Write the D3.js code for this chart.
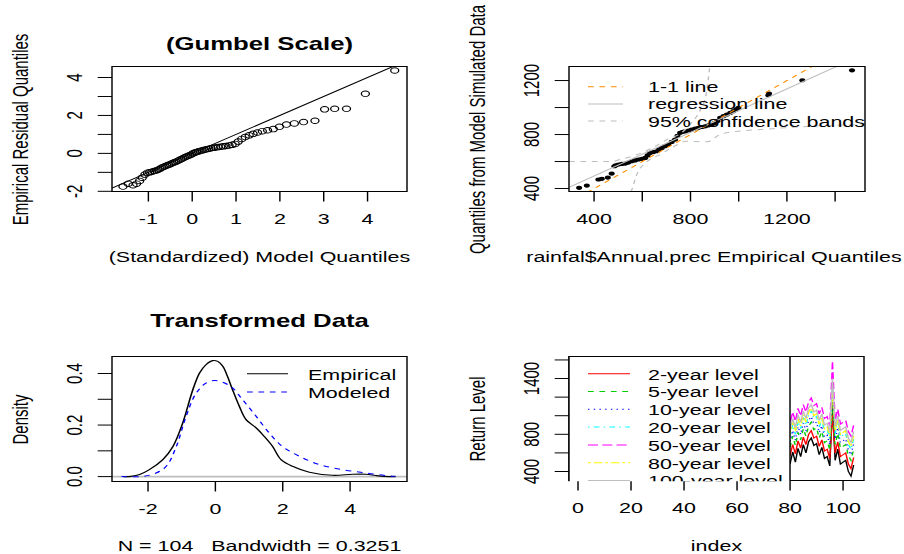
<!DOCTYPE html>
<html>
<head>
<meta charset="utf-8">
<script src="https://cdn.jsdelivr.net/npm/d3@7"></script>
<style>
  body { margin: 0; background: #fff; }
  svg { display: block; }
</style>
</head>
<body>
<svg id="chart"></svg>
<script>
// ---- panel 1: residual quantiles, Gumbel scale ----
const gumModel = [-1.58,-1.46,-1.35,-1.27,-1.2,-1.14,-1.08,-1.02,-0.97,-0.92,-0.87,-0.82,-0.78,-0.74,-0.70,-0.66,-0.62,-0.58,-0.54,-0.50,
  -0.46,-0.42,-0.38,-0.34,-0.30,-0.26,-0.22,-0.18,-0.14,-0.10,-0.06,-0.02,0.02,0.06,0.10,0.14,0.18,0.23,0.28,0.33,
  0.38,0.43,0.48,0.53,0.59,0.65,0.71,0.77,0.84,0.91,0.98,1.05,1.13,1.21,1.30,1.39,1.49,1.60,1.72,1.85,
  1.99,2.15,2.33,2.54,2.80,3.02,3.25,3.52,3.95,4.62];
const gumResid = [-1.75,-1.60,-1.68,-1.60,-1.45,-1.28,-1.12,-1.02,-1.00,-0.97,-0.93,-0.90,-0.86,-0.82,-0.76,-0.72,-0.68,-0.64,-0.60,-0.57,
  -0.52,-0.48,-0.45,-0.40,-0.36,-0.31,-0.27,-0.22,-0.18,-0.14,-0.10,-0.06,0.0,0.04,0.07,0.10,0.13,0.16,0.19,0.22,
  0.25,0.27,0.29,0.31,0.33,0.35,0.37,0.39,0.42,0.45,0.50,0.62,0.76,0.86,0.95,1.03,1.10,1.17,1.22,1.28,
  1.40,1.52,1.58,1.65,1.72,2.32,2.35,2.35,3.14,4.37];
const p1XTicks = [-1, 0, 1, 2, 3, 4], p1XLabels = [-1, 0, 1, 2, 3, 4];
const p1YTicks = [-2, -1, 0, 1, 2, 3, 4], p1YLabels = [-2, 0, 2, 4];

// ---- panel 2: empirical vs simulated quantiles ----
const qqEmp = [338,370,418,432,457,473,484,490,501,515,529,542,556,570,584,598,612,622,632,646,660,670,681,694,708,
  722,736,746,757,768,778,792,805,819,833,847,861,875,888,900,912,923,937,951,965,978,990,999,1123,1126,1264,1470];
const qqSim = [405,422,467,472,481,511,565,572,578,582,585,592,602,608,615,620,627,645,664,670,676,690,701,714,726,
  745,763,790,813,820,824,830,837,844,850,856,861,868,874,885,900,924,936,948,960,973,986,998,1091,1104,1202,1276];
const regIntercept = 171, regSlope = 0.806;
const bandUpper = [[296,600],[475,600],[508,615],[560,640],[640,700],[700,760],[769,822],[800,880],[840,980],[865,1100],[880,1304]];
const bandLower = [[553,378],[562,417],[570,470],[584,528],[620,600],[674,652],[720,700],[785,750],[868,746],[923,800],[1000,825],[1089,837],[1296,861],[1524,874]];
const p2XTicks = [400, 600, 800, 1000, 1200, 1400], p2XLabels = [400, 800, 1200];
const p2YTicks = [400, 600, 800, 1000, 1200], p2YLabels = [400, 800, 1200];
const p2Legend = ["1-1 line", "regression line", "95% confidence bands"];

// ---- panel 3: transformed data densities ----
const empX = [-2.73,-2.5,-2.25,-1.96,-1.56,-1.26,-0.97,-0.67,-0.47,-0.28,-0.08,0.07,0.22,0.36,0.51,0.71,0.91,1.21,1.45,1.70,1.95,2.29,2.79,3.48,4.07,4.47,4.76,5.0,5.35];
const empY = [0.0,0.001,0.008,0.027,0.066,0.117,0.208,0.337,0.402,0.434,0.450,0.447,0.428,0.389,0.337,0.273,0.221,0.189,0.156,0.117,0.066,0.040,0.017,0.005,0.009,0.009,0.004,0.001,0.0];
const modX = [-2.79,-2.15,-1.76,-1.46,-1.16,-0.87,-0.57,-0.28,-0.03,0.22,0.51,0.81,1.21,1.60,1.99,2.49,3.08,3.77,4.47,5.06,5.35];
const modY = [0.0,0.001,0.014,0.040,0.117,0.234,0.324,0.363,0.373,0.366,0.344,0.298,0.234,0.169,0.117,0.079,0.047,0.027,0.014,0.004,0.001];
const p3XTicks = [-2, 0, 2, 4], p3XLabels = [-2, 0, 2, 4];
const p3YTicks = [0, 0.1, 0.2, 0.3, 0.4], p3YLabels = [0, 0.2, 0.4];
const p3Legend = ["Empirical", "Modeled"];

// ---- panel 4: effective return levels (only the part not hidden by the legend) ----
const rlIndex = [79,80,81,82,83,84,85,86,87,88,89,90,91,92,93,94,95,96,97,98,99,100,101,102,103,104];
const rlObs   = [580,480,610,500,650,560,690,600,720,760,680,700,580,660,540,560,460,1150,520,640,480,500,520,400,350,470];
const rl2     = [650,570,690,590,730,650,770,690,800,840,760,780,670,740,620,640,540,1010,600,720,560,580,600,480,430,550];
const rl5     = [740,660,780,680,820,740,860,780,890,930,850,870,760,830,710,730,630,1120,690,810,650,670,690,570,520,640];
const rl10    = [800,720,840,740,880,800,920,840,950,990,910,930,820,890,770,790,690,1200,750,870,710,730,750,630,580,700];
const rl20    = [860,780,900,800,940,860,980,900,1010,1050,970,990,880,950,830,850,750,1330,810,930,770,790,810,690,640,760];
const rl50    = [1000,920,1040,940,1080,1000,1120,1040,1150,1190,1110,1130,1020,1090,970,990,890,1590,950,1070,910,930,950,830,780,900];
const rl80    = [890,810,930,830,970,890,1010,930,1040,1080,1000,1020,910,980,860,880,780,1250,840,960,800,820,840,720,670,790];
const rl100   = [930,850,970,870,1010,930,1050,970,1080,1120,1040,1060,950,1020,900,920,820,1400,880,1000,840,860,880,760,710,830];
const rlNames = ["2-year level", "5-year level", "10-year level", "20-year level", "50-year level", "80-year level", "100-year level"];
const p4XTicks = [0, 20, 40, 60, 80, 100], p4XLabels = [0, 20, 40, 60, 80, 100];
const p4YTicks = [400, 600, 800, 1000, 1200, 1400, 1600], p4YLabels = [400, 800, 1400];

// the reference is stretched horizontally, so draw in a narrower box and stretch it
const SX = 1.43;
const W = 904, H = 554;
const vx = v => v / SX;
const FONT = "'Liberation Sans', Arial, sans-serif";

const svg = d3.select('#chart')
  .attr('width', W).attr('height', H)
  .attr('viewBox', `0 0 ${W / SX} ${H}`)
  .attr('preserveAspectRatio', 'none');

function makePanel(id, box, xDom, yDom) {
  const x = d3.scaleLinear().domain(xDom).range([vx(box.l), vx(box.r)]);
  const y = d3.scaleLinear().domain(yDom).range([box.b, box.t]);
  const g = svg.append('g');
  svg.append('clipPath').attr('id', id).append('rect')
    .attr('x', vx(box.l)).attr('y', box.t)
    .attr('width', vx(box.r - box.l)).attr('height', box.b - box.t);
  const plot = g.append('g').attr('clip-path', `url(#${id})`);
  return { g, plot, x, y, box, id };
}

function drawBox(p) {
  p.g.append('rect')
    .attr('x', vx(p.box.l)).attr('y', p.box.t)
    .attr('width', vx(p.box.r - p.box.l)).attr('height', p.box.b - p.box.t)
    .attr('fill', 'none').attr('stroke', '#000').attr('stroke-width', 1);
}

function drawAxes(p, xTicks, xLabels, yTicks, yLabels, fmtX, fmtY) {
  const xa = p.g.append('g')
    .attr('transform', `translate(0,${p.box.b})`)
    .call(d3.axisBottom(p.x).tickValues(xTicks).tickSize(10).offset(0)
      .tickFormat(d => xLabels.includes(d) ? fmtX(d) : ''));
  xa.select('.domain').remove();
  xa.attr('font-size', 15).attr('font-family', FONT);
  xa.selectAll('text').attr('y', 33).attr('dy', null);

  const ya = p.g.append('g')
    .attr('transform', `translate(${vx(p.box.l)},0)`)
    .call(d3.axisLeft(p.y).tickValues(yTicks).tickSize(10).offset(0)
      .tickFormat(d => yLabels.includes(d) ? fmtY(d) : ''));
  ya.select('.domain').remove();
  ya.attr('font-size', 15).attr('font-family', FONT);
  ya.selectAll('text')
    .attr('x', null).attr('dy', null)
    .attr('text-anchor', 'middle')
    .attr('transform', `translate(${-vx(30)},0) rotate(-90)`);
}

function label(x, y, str, opts = {}) {
  const t = svg.append('text')
    .attr('font-family', FONT)
    .attr('font-size', opts.size || 15)
    .attr('font-weight', opts.bold ? 'bold' : null)
    .attr('text-anchor', opts.anchor || 'middle')
    .style('white-space', 'pre')
    .text(str);
  if (opts.rotate) t.attr('transform', `translate(${vx(x)},${y}) rotate(-90)`);
  else t.attr('x', vx(x)).attr('y', y);
  return t;
}

const plain = d => String(d);
const oneDec = d => d.toFixed(1);

// ================= panel 1 =================
const p1 = makePanel('clip1', { l: 112, r: 407, t: 66.5, b: 191.5 }, [-1.83, 4.9], [-2.01, 4.58]);
drawBox(p1);
drawAxes(p1, p1XTicks, p1XLabels, p1YTicks, p1YLabels, plain, plain);
const d1 = p1.x.domain();
p1.plot.append('line')
  .attr('x1', p1.x(d1[0])).attr('y1', p1.y(d1[0]))
  .attr('x2', p1.x(d1[1])).attr('y2', p1.y(d1[1]))
  .attr('stroke', '#000').attr('stroke-width', 1);
p1.plot.selectAll('.pt')
  .data(d3.zip(gumModel, gumResid))
  .enter()
  .append('circle')
  .attr('cx', d => p1.x(d[0]))
  .attr('cy', d => p1.y(d[1]))
  .attr('r', 2.8)
  .attr('fill', 'none').attr('stroke', '#000').attr('stroke-width', 0.9);
label(259.5, 50, '(Gumbel Scale)', { size: 18, bold: true });
label(259.5, 262, '(Standardized) Model Quantiles');
label(28, 129.5, 'Empirical Residual Quantiles', { rotate: true });

// ================= panel 2 =================
const p2 = makePanel('clip2', { l: 569, r: 865, t: 66.5, b: 191.5 }, [296, 1524], [378, 1304]);
drawBox(p2);
drawAxes(p2, p2XTicks, p2XLabels, p2YTicks, p2YLabels, plain, plain);
p2.plot.selectAll('.pt')
  .data(d3.zip(qqEmp, qqSim))
  .enter()
  .append('circle')
  .attr('cx', d => p2.x(d[0]))
  .attr('cy', d => p2.y(d[1]))
  .attr('r', 2.1)
  .attr('fill', '#000');
const d2 = p2.x.domain();
p2.plot.append('line')
  .attr('x1', p2.x(d2[0])).attr('y1', p2.y(d2[0]))
  .attr('x2', p2.x(d2[1])).attr('y2', p2.y(d2[1]))
  .attr('stroke', '#FF8C00').attr('stroke-width', 1).attr('stroke-dasharray', '4,4');
p2.plot.append('line')
  .attr('x1', p2.x(d2[0])).attr('y1', p2.y(regIntercept + regSlope * d2[0]))
  .attr('x2', p2.x(d2[1])).attr('y2', p2.y(regIntercept + regSlope * d2[1]))
  .attr('stroke', '#BEBEBE').attr('stroke-width', 1);
const line2 = d3.line().x(d => p2.x(d[0])).y(d => p2.y(d[1])).curve(d3.curveMonotoneX);
[bandUpper, bandLower].forEach(b => {
  p2.plot.append('path').attr('d', line2(b))
    .attr('fill', 'none').attr('stroke', '#BEBEBE').attr('stroke-width', 1).attr('stroke-dasharray', '4,4');
});
const leg2Style = [
  { color: '#FF8C00', dash: '4,4' },
  { color: '#BEBEBE', dash: null },
  { color: '#BEBEBE', dash: '4,4' }
];
p2Legend.forEach((name, i) => {
  const yy = 86.7 + i * 17.2;
  svg.append('line')
    .attr('x1', vx(588)).attr('x2', vx(623)).attr('y1', yy).attr('y2', yy)
    .attr('stroke', leg2Style[i].color).attr('stroke-width', 1)
    .attr('stroke-dasharray', leg2Style[i].dash);
  label(648, yy + 5.5, name, { anchor: 'start' });
});
label(714, 262, 'rainfal$Annual.prec Empirical Quantiles');
label(485, 129.5, 'Quantiles from Model Simulated Data', { rotate: true });

// ================= panel 3 =================
const p3 = makePanel('clip3', { l: 112, r: 407, t: 356.5, b: 481.5 }, [-3.07, 5.69], [-0.019, 0.466]);
p3.plot.append('line')
  .attr('x1', vx(112)).attr('x2', vx(407))
  .attr('y1', p3.y(0)).attr('y2', p3.y(0))
  .attr('stroke', '#BEBEBE').attr('stroke-width', 1.6);
const line3 = d3.line().x(d => p3.x(d[0])).y(d => p3.y(d[1])).curve(d3.curveCatmullRom);
p3.plot.append('path').attr('d', line3(d3.zip(empX, empY)))
  .attr('fill', 'none').attr('stroke', '#000').attr('stroke-width', 1.1);
p3.plot.append('path').attr('d', line3(d3.zip(modX, modY)))
  .attr('fill', 'none').attr('stroke', '#0000FF').attr('stroke-width', 1).attr('stroke-dasharray', '4,4');
drawBox(p3);
drawAxes(p3, p3XTicks, p3XLabels, p3YTicks, p3YLabels, plain, oneDec);
const leg3Style = [{ color: '#000', dash: null }, { color: '#0000FF', dash: '4,4' }];
p3Legend.forEach((name, i) => {
  const yy = 373.7 + i * 18.3;
  svg.append('line')
    .attr('x1', vx(247)).attr('x2', vx(288)).attr('y1', yy).attr('y2', yy)
    .attr('stroke', leg3Style[i].color).attr('stroke-width', 1)
    .attr('stroke-dasharray', leg3Style[i].dash);
  label(308, yy + 6.5, name, { anchor: 'start' });
});
label(259.5, 327, 'Transformed Data', { size: 18, bold: true });
label(259.5, 551, 'N = 104   Bandwidth = 0.3251');
label(28, 419.5, 'Density', { rotate: true });

// ================= panel 4 =================
const p4 = makePanel('clip4', { l: 569, r: 864, t: 356.5, b: 480.5 }, [-3.4, 107.9], [303, 1637]);
drawBox(p4);
drawAxes(p4, p4XTicks, p4XLabels, p4YTicks, p4YLabels, plain, plain);
const rlSeries = [rl2, rl5, rl10, rl20, rl50, rl80, rl100];
const rlColors = ['#FF0000', '#00CD00', '#0000FF', '#00FFFF', '#FF00FF', '#FFFF00', '#BEBEBE'];
const rlDash = [null, '4,4', '1,3', '1,3,4,3', '7,3', '2,2,6,2', null];
const line4 = d3.line().x(d => p4.x(d[0])).y(d => p4.y(d[1]));
p4.plot.append('path').attr('d', line4(d3.zip(rlIndex, rlObs)))
  .attr('fill', 'none').attr('stroke', '#000').attr('stroke-width', 1);
rlSeries.forEach((s, i) => {
  p4.plot.append('path').attr('d', line4(d3.zip(rlIndex, s)))
    .attr('fill', 'none').attr('stroke', rlColors[i]).attr('stroke-width', 1)
    .attr('stroke-dasharray', rlDash[i]);
});
// legend box sits in the top-left corner and runs out of the plot region
svg.append('clipPath').attr('id', 'clip4L').append('rect')
  .attr('x', vx(568)).attr('y', 355.5)
  .attr('width', vx(297)).attr('height', 125.7);
const leg4 = svg.append('g').attr('clip-path', 'url(#clip4L)');
leg4.append('rect')
  .attr('x', vx(569)).attr('y', 356.5)
  .attr('width', vx(790 - 569)).attr('height', 160)
  .attr('fill', '#fff').attr('stroke', '#000').attr('stroke-width', 1);
rlNames.forEach((name, i) => {
  const yy = 373.7 + i * 17.8;
  leg4.append('line')
    .attr('x1', vx(588)).attr('x2', vx(630)).attr('y1', yy).attr('y2', yy)
    .attr('stroke', rlColors[i]).attr('stroke-width', 1)
    .attr('stroke-dasharray', rlDash[i]);
  leg4.append('text')
    .attr('x', vx(648)).attr('y', yy + 6)
    .attr('font-family', FONT).attr('font-size', 15)
    .text(name);
});
label(716.5, 551, 'index');
label(485, 419, 'Return Level', { rotate: true });
</script>
</body>
</html>
